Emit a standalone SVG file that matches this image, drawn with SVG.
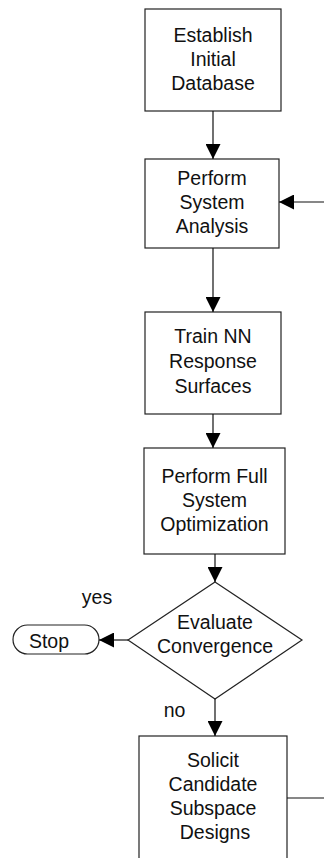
<svg xmlns="http://www.w3.org/2000/svg" width="324" height="858" viewBox="0 0 324 858">
<style>
.box{fill:#fff;stroke:#222;stroke-width:1.2}
.lbl{font-family:"Liberation Sans",Arial,sans-serif;font-size:19.5px;fill:#111;text-anchor:middle}
.con{fill:none;stroke:#111;stroke-width:1.2}
</style>
<defs>
<marker id="ah" markerUnits="userSpaceOnUse" markerWidth="15" markerHeight="15" refX="15" refY="7.5" orient="auto" viewBox="0 0 15 15">
<path d="M0,0 L15,7.5 L0,15 z" fill="#000"/>
</marker>
</defs>
<g id="n1">
<rect class="box" x="145" y="9" width="136" height="102"/>
<text class="lbl" x="213" y="42">Establish</text>
<text class="lbl" x="213" y="66">Initial</text>
<text class="lbl" x="213" y="90">Database</text>
</g>
<g id="n2">
<rect class="box" x="145" y="159" width="134" height="89"/>
<text class="lbl" x="212" y="185">Perform</text>
<text class="lbl" x="212" y="209">System</text>
<text class="lbl" x="212" y="233">Analysis</text>
</g>
<g id="n3">
<rect class="box" x="145" y="312" width="136" height="102"/>
<text class="lbl" x="213" y="343">Train NN</text>
<text class="lbl" x="213" y="368">Response</text>
<text class="lbl" x="213" y="393">Surfaces</text>
</g>
<g id="n4">
<rect class="box" x="144" y="448" width="141" height="106"/>
<text class="lbl" x="214.5" y="483">Perform Full</text>
<text class="lbl" x="214.5" y="507">System</text>
<text class="lbl" x="214.5" y="531">Optimization</text>
</g>
<g id="n5">
<polygon class="box" points="215,582 302,640 215,699 128,640"/>
<text class="lbl" x="215" y="629">Evaluate</text>
<text class="lbl" x="215" y="653">Convergence</text>
</g>
<g id="n6">
<rect class="box" x="13" y="625" width="86" height="29" rx="14.5"/>
<text class="lbl" x="49" y="648">Stop</text>
</g>
<g id="n7">
<rect class="box" x="139" y="736" width="148" height="140"/>
<text class="lbl" x="213" y="767">Solicit</text>
<text class="lbl" x="213" y="791">Candidate</text>
<text class="lbl" x="213" y="815">Subspace</text>
<text class="lbl" x="215" y="839">Designs</text>
</g>
<g id="connectors">
<line class="con" x1="213" y1="111" x2="213" y2="159" marker-end="url(#ah)"/>
<line class="con" x1="213" y1="248" x2="213" y2="312" marker-end="url(#ah)"/>
<line class="con" x1="213" y1="414" x2="213" y2="448" marker-end="url(#ah)"/>
<line class="con" x1="215" y1="554" x2="215" y2="582" marker-end="url(#ah)"/>
<line class="con" x1="128" y1="640" x2="99" y2="640" marker-end="url(#ah)"/>
<line class="con" x1="215" y1="699" x2="215" y2="736" marker-end="url(#ah)"/>
<line class="con" x1="324" y1="202" x2="279" y2="202" marker-end="url(#ah)"/>
<line class="con" x1="287" y1="798" x2="324" y2="798"/>
<text class="lbl" x="97" y="604">yes</text>
<text class="lbl" x="174.5" y="717">no</text>
</g>
</svg>
